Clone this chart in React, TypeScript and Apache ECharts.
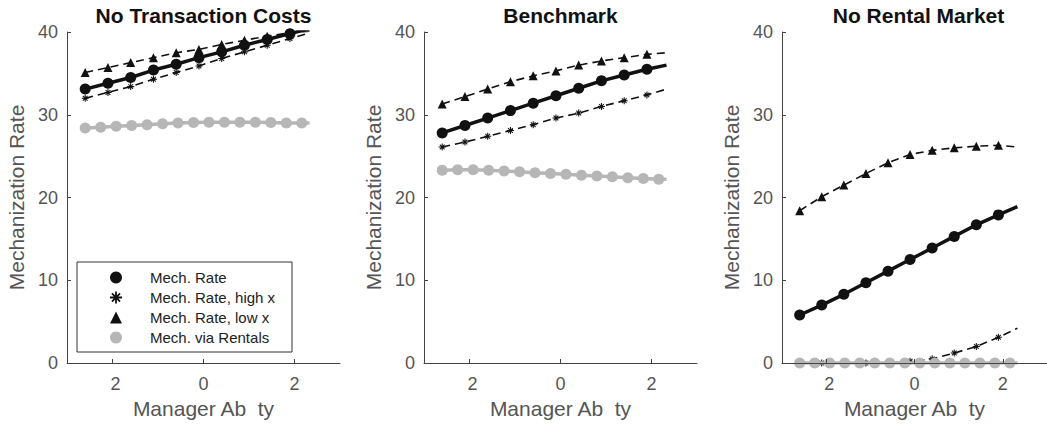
import React, { useEffect, useRef } from "react";
import * as echarts from "echarts";

// Panel headings, left to right
const panelTitles = ["No Transaction Costs", "Benchmark", "No Rental Market"];

// Series names (shared across the three panels)
const nameMech = "Mech. Rate";
const nameHigh = "Mech. Rate, high x";
const nameLow = "Mech. Rate, low x";
const nameRent = "Mech. via Rentals";

// Manager ability grid: marker positions; the last entry is where the line ends (no marker)
const abilityX = [-2.6, -2.1, -1.6, -1.1, -0.6, -0.1, 0.4, 0.9, 1.4, 1.9, 2.33];
const rentalX = [-2.6, -2.26, -1.92, -1.58, -1.24, -0.9, -0.56, -0.22, 0.12, 0.46, 0.8, 1.14, 1.48, 1.82, 2.16, 2.33];

// No Transaction Costs
const mechNoTC = [33.1, 33.8, 34.5, 35.4, 36.1, 36.9, 37.6, 38.4, 39.1, 39.8, 40.4];
const highNoTC = [32.0, 32.7, 33.4, 34.3, 35.1, 35.9, 36.8, 37.6, 38.4, 39.2, 39.9];
const lowNoTC = [35.1, 35.7, 36.3, 36.9, 37.5, 37.9, 38.5, 39.0, 39.5, 39.9, 40.1];
const rentNoTC = [28.4, 28.5, 28.6, 28.7, 28.8, 28.9, 29.0, 29.05, 29.1, 29.1, 29.1, 29.1, 29.05, 29.0, 29.0, 29.0];

// Benchmark
const mechBench = [27.8, 28.7, 29.6, 30.5, 31.4, 32.3, 33.2, 34.1, 34.8, 35.5, 36.0];
const highBench = [26.1, 26.7, 27.4, 28.1, 28.8, 29.6, 30.2, 31.0, 31.7, 32.4, 33.1];
const lowBench = [31.3, 32.2, 33.1, 34.0, 34.7, 35.3, 36.0, 36.5, 36.9, 37.3, 37.5];
const rentBench = [23.3, 23.35, 23.35, 23.3, 23.2, 23.1, 23.0, 22.9, 22.8, 22.7, 22.6, 22.5, 22.4, 22.3, 22.2, 22.2];

// No Rental Market
const mechNoRent = [5.8, 7.0, 8.3, 9.7, 11.1, 12.5, 13.9, 15.3, 16.7, 17.9, 18.9];
const highNoRent = [0, 0, 0, 0, 0, 0.2, 0.5, 1.2, 2.0, 3.1, 4.2];
const lowNoRent = [18.4, 20.1, 21.5, 22.9, 24.2, 25.2, 25.7, 26.0, 26.2, 26.3, 26.1];
const rentNoRent = [0, 0, 0, 0, 0, 0, 0, 0, 0, 0, 0, 0, 0, 0, 0, 0];

const xTickValues = [-2, 0, 2];

const panels = [
  { mech: mechNoTC, high: highNoTC, low: lowNoTC, rent: rentNoTC },
  { mech: mechBench, high: highBench, low: lowBench, rent: rentBench },
  { mech: mechNoRent, high: highNoRent, low: lowNoRent, rent: rentNoRent },
];

const gridLefts = [67, 424, 782];
const gridTop = 32;
const gridWidth = 273;
const gridHeight = 331;

const FONT = "'Liberation Sans', Arial, Helvetica, sans-serif";
const GREY = "#b6b6b6";
const AXIS = "#444";
const LABEL = "#555";

// eight-armed asterisk marker
const asterisk =
  "path://M8.5,0 H11.5 V20 H8.5 Z M0,8.5 H20 V11.5 H0 Z " +
  "M2.2,4.3 L4.3,2.2 L17.8,15.7 L15.7,17.8 Z M15.7,2.2 L17.8,4.3 L4.3,17.8 L2.2,15.7 Z";

// pair x with y; the final point only extends the line
function points(xs: number[], ys: number[]) {
  return ys.map((y, i) =>
    i === ys.length - 1 ? { value: [xs[i], y], symbol: "none" } : [xs[i], y]
  );
}

function buildOption() {
  const grid = gridLefts.map((left) => ({ left, top: gridTop, width: gridWidth, height: gridHeight }));

  const xAxis = gridLefts.map((_, i) => ({
    type: "value",
    gridIndex: i,
    min: -3,
    max: 3,
    z: 10,
    name: "Manager Ab\u00a0\u00a0ty",
    nameLocation: "middle",
    nameGap: 32,
    nameTextStyle: { fontFamily: FONT, fontSize: 21, color: LABEL },
    axisLine: { show: true, onZero: false, lineStyle: { color: AXIS, width: 1 } },
    axisTick: { show: true, inside: true, length: 4, customValues: xTickValues, lineStyle: { color: AXIS } },
    axisLabel: {
      customValues: xTickValues,
      margin: 12,
      fontFamily: FONT,
      fontSize: 18,
      color: LABEL,
      formatter: (v: number) => (v < 0 ? `{neg|${Math.abs(v)}}` : `${v}`),
      rich: { neg: { padding: [0, 0, 0, 6], fontFamily: FONT, fontSize: 18, color: LABEL } },
    },
    splitLine: { show: false },
  }));

  const yAxis = gridLefts.map((_, i) => ({
    type: "value",
    gridIndex: i,
    min: 0,
    max: 40,
    interval: 10,
    z: 10,
    name: "Mechanization Rate",
    nameLocation: "middle",
    nameGap: 40,
    nameTextStyle: { fontFamily: FONT, fontSize: 21, color: LABEL },
    axisLine: { show: true, onZero: false, lineStyle: { color: AXIS, width: 1 } },
    axisTick: { show: true, inside: true, length: 4, lineStyle: { color: AXIS } },
    axisLabel: { margin: 9, fontFamily: FONT, fontSize: 18, color: LABEL },
    splitLine: { show: false },
  }));

  const series: any[] = [];
  panels.forEach((p, i) => {
    const common = { xAxisIndex: i, yAxisIndex: i, emphasis: { disabled: true }, clip: true };
    series.push({
      ...common,
      type: "line",
      name: nameHigh,
      data: points(abilityX, p.high),
      symbol: asterisk,
      symbolSize: 7,
      lineStyle: { color: "#111", width: 1.6, type: [8, 5] },
      itemStyle: { color: "#111" },
      z: 3,
    });
    series.push({
      ...common,
      type: "line",
      name: nameLow,
      data: points(abilityX, p.low),
      symbol: "triangle",
      symbolSize: 9,
      lineStyle: { color: "#111", width: 1.6, type: [8, 5] },
      itemStyle: { color: "#111" },
      z: 3,
    });
    series.push({
      ...common,
      type: "line",
      name: nameMech,
      data: points(abilityX, p.mech),
      symbol: "circle",
      symbolSize: 11,
      lineStyle: { color: "#111", width: 3.5 },
      itemStyle: { color: "#111" },
      z: 4,
    });
    // rentals drawn above the others; where it sits at zero it covers the high-x markers
    series.push({
      ...common,
      type: "line",
      name: nameRent,
      data: points(rentalX, p.rent),
      symbol: "circle",
      symbolSize: 11,
      lineStyle: { color: GREY, width: 3.5 },
      itemStyle: { color: GREY },
      z: 5,
    });
  });

  const titles = panelTitles.map((t, i) => ({
    type: "text",
    x: gridLefts[i] + gridWidth / 2,
    y: 15,
    style: {
      text: t,
      align: "center",
      verticalAlign: "middle",
      textAlign: "center",
      textVerticalAlign: "middle",
      fontFamily: FONT,
      fontSize: 21,
      fontWeight: "bold",
      fill: "#111",
    },
  }));

  return {
    animation: false,
    backgroundColor: "#fff",
    grid,
    xAxis,
    yAxis,
    series,
    legend: {
      orient: "vertical",
      left: 110,
      top: 270,
      padding: 0,
      itemWidth: 12,
      itemHeight: 12,
      itemGap: 5,
      selectedMode: false,
      textStyle: { fontFamily: FONT, fontSize: 15, color: "#222", padding: [0, 0, 0, 23] },
      data: [
        { name: nameMech, icon: "circle" },
        { name: nameHigh, icon: asterisk },
        { name: nameLow, icon: "triangle" },
        { name: nameRent, icon: "circle" },
      ],
      z: 7,
    },
    graphic: [
      {
        type: "rect",
        shape: { x: 77, y: 262, width: 215, height: 90 },
        style: { fill: "#fff", stroke: "#333", lineWidth: 1 },
        z: 6,
      },
      ...titles,
    ],
  };
}

export default function App() {
  const ref = useRef<HTMLDivElement>(null);

  useEffect(() => {
    if (!ref.current) return;
    const chart = echarts.init(ref.current, undefined, { renderer: "svg" });
    chart.setOption(buildOption() as any);
    return () => chart.dispose();
  }, []);

  return (
    <div
      ref={ref}
      style={{ position: "fixed", left: 0, top: 0, width: 1047, height: 430, background: "#fff" }}
    />
  );
}
